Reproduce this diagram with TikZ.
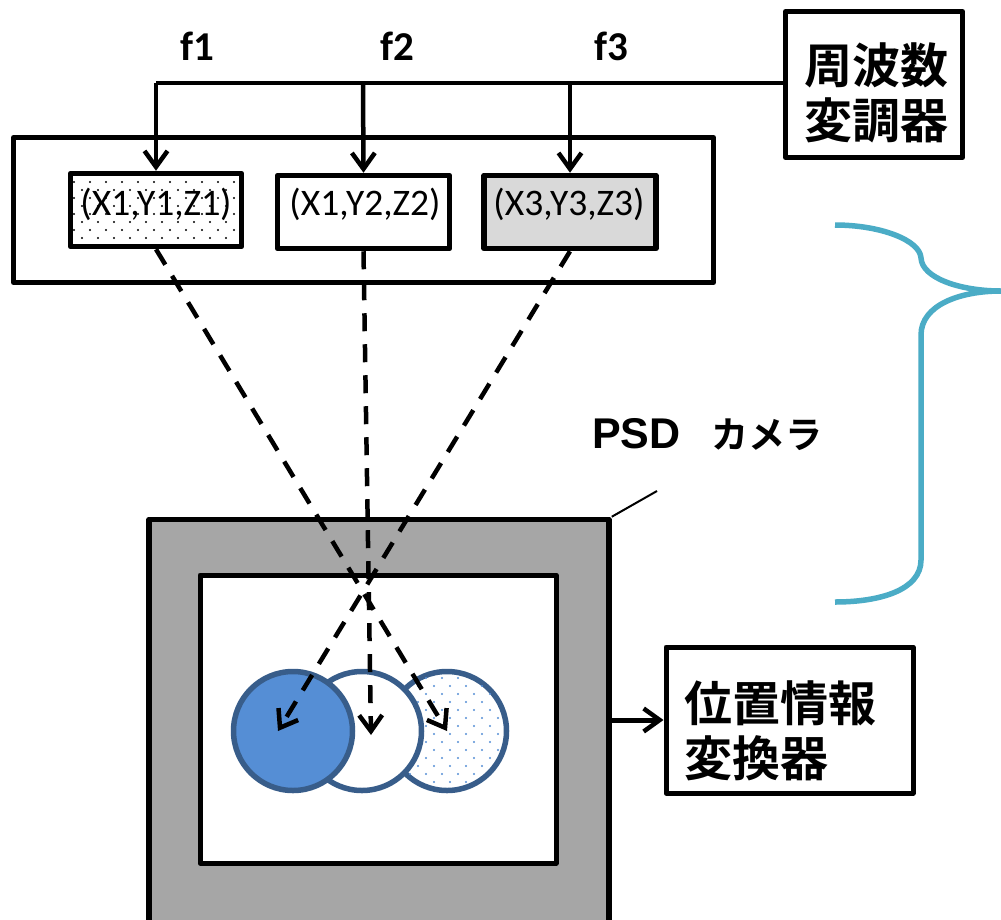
\documentclass[tikz,border=0pt]{standalone}
\usepackage{fontspec}
\setmainfont{Carlito}
\newfontfamily\cjkb[BoldFont={Noto Sans CJK JP Bold}]{Noto Sans CJK JP}
\newfontfamily\lab{Liberation Sans Bold}
\usetikzlibrary{arrows.meta}
\definecolor{psdgray}{HTML}{A6A6A6}
\definecolor{lightg}{HTML}{D9D9D9}
\definecolor{bluefill}{HTML}{558ED5}
\definecolor{bluedge}{HTML}{385D8A}
\definecolor{teal}{HTML}{4BACC6}
\tikzset{
  boxn/.style={draw=black,line width=5pt,inner sep=0pt,line join=round,text=black},
  coordbox/.style={boxn,line width=5.5pt,minimum width=172pt,minimum height=73pt},
  coordtext/.style={font=\fontsize{37.5}{40}\selectfont,inner sep=0pt},
  circ/.style={circle,draw=bluedge,line width=5.5pt,minimum size=119pt,inner sep=0pt},
  tipv/.style={-{Straight Barb[length=16pt,width=23pt,line width=4.5pt]}},
  wire/.style={line width=4.5pt,draw=black},
  dline/.style={wire,tipv,dash pattern=on 18pt off 13pt},
  flab/.style={font=\fontsize{41}{44}\selectfont\bfseries,inner sep=0pt},
  cjklab/.style={font=\cjkb\fontsize{48}{57}\selectfont\bfseries,align=left,inner sep=0pt}
}
\begin{document}
\begin{tikzpicture}[x=1pt,y=-1pt]
\clip (0,0) rectangle (1001,919);
\fill[white] (0,0) rectangle (1001,919);
% outer group
\node[boxn,minimum width=700pt,minimum height=145pt] (group) at (363.5,210) {};
% coordinate boxes
\node[coordbox,fill=white,minimum width=171pt] (b1) at (156,210) {};
\foreach \r in {0,...,7}{
  \pgfmathtruncatemacro{\odd}{mod(\r,2)}
  \pgfmathtruncatemacro{\last}{10-\odd}
  \foreach \c in {0,...,\last}{
    \fill[black] ({74+\c*16+\odd*8},{182+\r*8}) circle (1.2pt);
  }
}
\node[coordtext] (t1) at (156,204) {(X1,Y1,Z1)};
\node[coordbox,fill=white] (b2) at (363.5,212) {};
\node[coordtext] (t2) at (365,204) {(X1,Y2,Z2)};
\node[coordbox,fill=lightg] (b3) at (570,212) {};
\node[coordtext] (t3) at (569,204) {(X3,Y3,Z3)};
% modulator
\node[boxn,minimum width=177pt,minimum height=146pt,fill=white] (mod) at (874,84.5) {};
\node[cjklab,align=center] (modt) at (876,93) {周波数\\[-2pt]変調器};
% bus
\coordinate (bus1) at (156,83);
\coordinate (bus2) at (363,83);
\coordinate (bus3) at (570,83);
\draw[wire,line width=4pt] (mod.west |- bus1) -- (bus1);
\draw[wire,tipv] (bus1) -- (b1.north);
\draw[wire,tipv] (bus2) -- (b2.north);
\draw[wire,tipv] (bus3) -- (b3.north);
\node[flab] (f1) at (197,46) {f1};
\node[flab] (f2) at (397,46) {f2};
\node[flab] (f3) at (611,46) {f3};
% brace
\coordinate (br0) at (835,225);
\coordinate (brtip) at (1001,291);
\coordinate (br1) at (835,602);
\draw[teal,line width=5.5pt,line join=round]
  (br0) .. controls (880,225) and (920,240) .. (921,258)
  .. controls (922,278) and (960,291) .. (brtip)
  .. controls (960,291) and (921,305) .. (921,335)
  -- (921,560) .. controls (921,590) and (880,602) .. (br1);
% PSD camera
\node[boxn,line width=5.5pt,fill=psdgray,minimum width=460pt,minimum height=420pt] (psd) at (379,729.5) {};
\node[boxn,fill=white,minimum width=356pt,minimum height=288pt] (sensor) at (378,719) {};
\coordinate (lead) at (657,491);
\draw[line width=2pt] (psd.north east) -- (lead);
\node[font=\lab\fontsize{43}{45}\selectfont,inner sep=0pt,anchor=base west] (psdl) at (592,448) {PSD};
\node[font=\cjkb\bfseries\fontsize{37}{40}\selectfont,inner sep=0pt,anchor=base west] (psdk) at (711,448) {カメラ};
% spots
\node[circ,fill=white] (c3) at (447,731) {};
\foreach \r in {0,...,13}{
  \foreach \c in {0,...,10}{
    \pgfmathsetmacro{\px}{378+\c*16+mod(\r,2)*8}
    \pgfmathsetmacro{\py}{678+\r*8}
    \pgfmathparse{((\px-447)^2+(\py-731)^2<3300)?1:0}
    \ifnum\pgfmathresult=1
      \fill[bluefill] (\px,\py) circle (1.2pt);
    \fi
  }
}
\node[circ,fill=white] (c2) at (362,731) {};
\node[circ,fill=bluefill] (c1) at (293,731) {};
% rays
\coordinate (tip1) at (447,731);
\coordinate (tip2) at (371,735);
\coordinate (tip3) at (278,731);
\draw[dline] (b1.south) -- (tip1);
\draw[dline] (b2.south) -- (tip2);
\draw[dline] (b3.south) -- (tip3);
% position converter
\node[boxn,fill=white,minimum width=247pt,minimum height=146pt] (conv) at (789.5,720) {};
\node[cjklab,anchor=west] (convt) at (684,731) {位置情報\\[-2pt]変換器};
\draw[wire,line width=5pt,tipv] (psd.east |- conv.west) -- (conv.west);
\end{tikzpicture}
\end{document}
